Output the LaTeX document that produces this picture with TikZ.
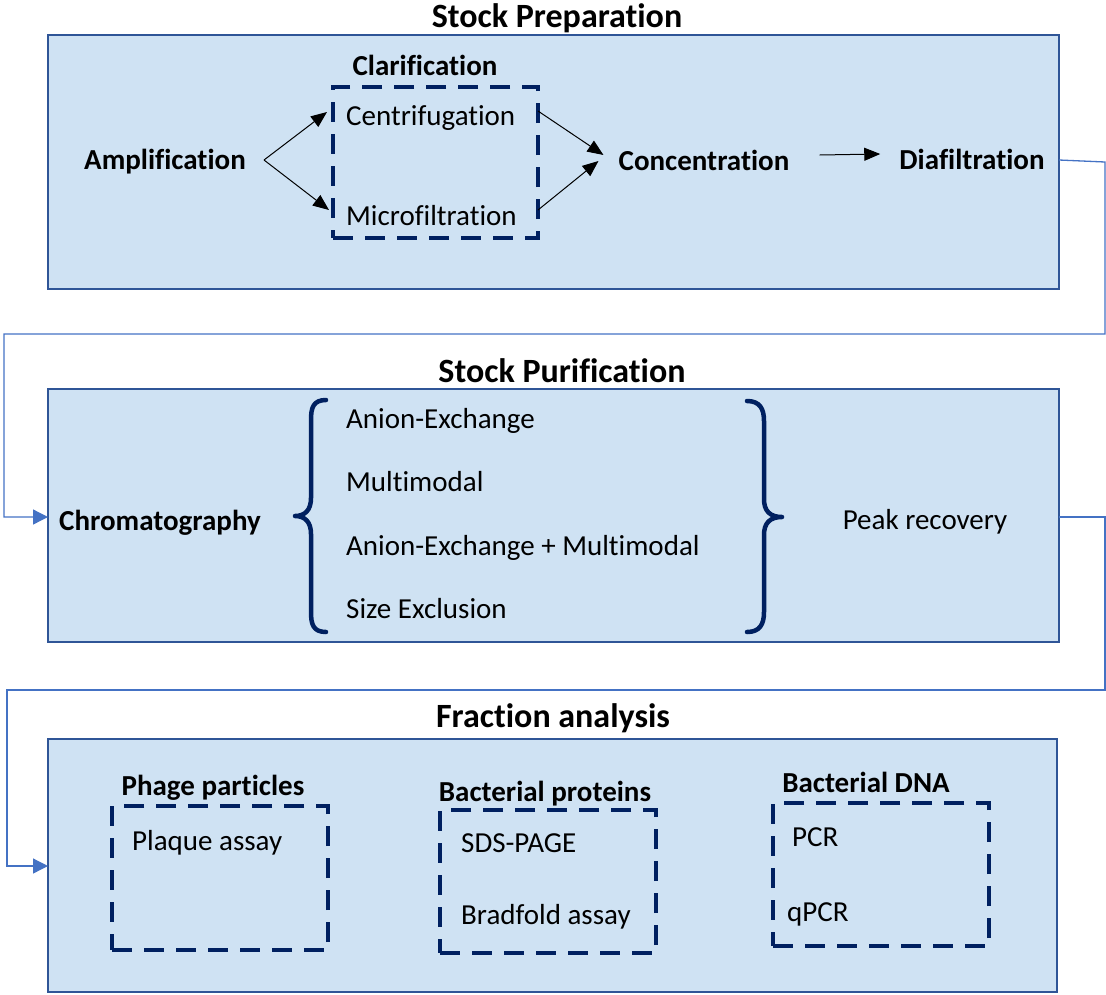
\documentclass[tikz,border=0pt]{standalone}
\usepackage{fontspec}
\setmainfont{Carlito}[Ligatures={NoCommon}]
\usetikzlibrary{arrows.meta}
\definecolor{panelfill}{RGB}{207,226,243}
\definecolor{panelborder}{RGB}{47,85,151}
\definecolor{navy}{RGB}{0,32,96}
\definecolor{linkblue}{RGB}{68,114,196}
\begin{document}
\begin{tikzpicture}[x=1pt,y=-1pt,
  panel/.style={draw=panelborder, line width=2.2pt, fill=panelfill, anchor=north west, inner sep=0pt, outer sep=0pt},
  dbox/.style={draw=navy, line width=4pt, dash pattern=on 20pt off 12pt, inner sep=0pt, outer sep=0pt},
  lbl/.style={font=\fontsize{29}{34}\selectfont\bfseries, inner sep=0pt, text height=18.6pt, text depth=0pt},
  item/.style={font=\fontsize{29}{34}\selectfont, inner sep=0pt, text height=18.6pt, text depth=0pt, anchor=west},
  ttl/.style={font=\fontsize{34}{40}\selectfont\bfseries, inner sep=0pt, text height=21.8pt, text depth=0pt},
  flow/.style={draw=linkblue, line width=1.3pt, -{Triangle[length=15pt,width=15pt]}},
  arr/.style={draw=black, line width=1pt, -{Triangle[length=16pt,width=13pt]}},
  brace/.style={draw=navy, line width=4.5pt, line cap=round, line join=round}
]
\useasboundingbox (0,0) rectangle (1106,994);

% panels
\node[panel, minimum width=1011pt, minimum height=254pt] (p1) at (48,35) {};
\node[panel, minimum width=1011pt, minimum height=253pt] (p2) at (48,389) {};
\node[panel, minimum width=1009pt, minimum height=253pt] (p3) at (48,739) {};

% titles
\node[ttl] (t1) at (557,17) {Stock Preparation};
\node[ttl] (t2) at (562,372) {Stock Purification};
\node[ttl] (t3) at (553,717) {Fraction analysis};

% Stock preparation
\node[dbox, minimum width=205pt, minimum height=151pt] (clarbox) at (435.5,162.5) {};
\node[lbl] (clar) at (425,66) {Clarification};
\node[lbl] (ampl) at (165,160) {Amplification};
\node[item] (centri) at (346,116) {Centrifugation};
\node[item] (micro) at (346,216) {Microfiltration};
\node[lbl] (conc) at (704,161) {Concentration};
\node[lbl] (diaf) at (972,160) {Diafiltration};

\draw[arr] ([xshift=18pt]ampl.east) -- ([xshift=-19pt,yshift=4pt]centri.west);
\draw[arr] ([xshift=18pt]ampl.east) -- ([xshift=-17pt,yshift=6pt]micro.west);
\draw[arr] ([yshift=5pt]clarbox.east |- centri.west) -- ([xshift=-15pt,yshift=6pt]conc.west);
\draw[arr] ([yshift=6pt]clarbox.east |- micro.west) -- ([xshift=-20pt]conc.west);
\draw[arr] ([xshift=30pt,yshift=6pt]conc.east) -- ([xshift=-19pt,yshift=6pt]diaf.west);

% Stock purification
\node[lbl] (chrom) at (160,521) {Chromatography};
\node[item] (ae) at (346,419) {Anion-Exchange};
\node[item] (mm) at (346,482) {Multimodal};
\node[item] (aemm) at (346,546) {Anion-Exchange + Multimodal};
\node[item] (se) at (346,609) {Size Exclusion};
\node[item, anchor=center] (peak) at (925,520) {Peak recovery};

\draw[brace] (326,400) .. controls (313,400) and (311,408) .. (311,420)
  -- (311,498) .. controls (311,510) and (305,516) .. (295,516)
  .. controls (305,516) and (311,522) .. (311,534)
  -- (311,612) .. controls (311,624) and (313,632) .. (326,632);
\draw[brace] (747,401) .. controls (760,401) and (764,409) .. (764,421)
  -- (764,499) .. controls (764,511) and (770,517) .. (782,517)
  .. controls (770,517) and (764,523) .. (764,535)
  -- (764,612) .. controls (764,624) and (760,632) .. (747,632);

% Fraction analysis
\node[dbox, minimum width=216pt, minimum height=144pt] (phbox) at (220,878) {};
\node[lbl] (phage) at (213,786) {Phage particles};
\node[item] (plaque) at (132,841) {Plaque assay};

\node[dbox, minimum width=216pt, minimum height=143pt] (prbox) at (548,881.5) {};
\node[lbl] (prot) at (545,792) {Bacterial proteins};
\node[item] (sds) at (461,843) {SDS-PAGE};
\node[item] (brad) at (461,915) {Bradfold assay};

\node[dbox, minimum width=216pt, minimum height=143pt] (dnabox) at (881,874.5) {};
\node[lbl] (dna) at (866,783) {Bacterial DNA};
\node[item] (pcr) at (792,837) {PCR};
\node[item] (qpcr) at (787,912) {qPCR};

% connectors between stages
\draw[flow] (p1.east |- diaf.center) -- (1105,162) -- (1105,334) -- (4,334) -- (4,517) -- (p2.west |- 0,517);
\draw[flow] (p2.east |- 0,517) -- (1105,517) -- (1105,690) -- (7,690) -- (7,866) -- (p3.west |- 0,866);
\end{tikzpicture}
\end{document}
